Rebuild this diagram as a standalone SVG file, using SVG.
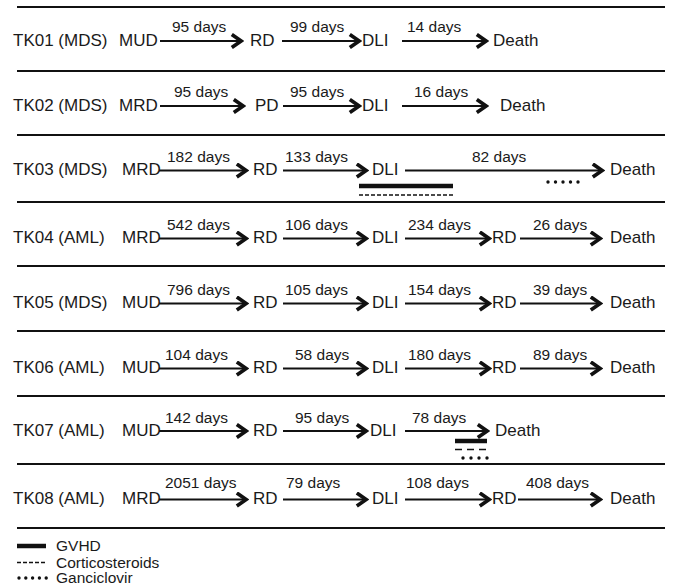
<svg xmlns="http://www.w3.org/2000/svg" width="674" height="587" viewBox="0 0 674 587">
<style>
text{font-family:"Liberation Sans",Arial,sans-serif;fill:#1a1a1a}
.t{font-size:17px}
.l{font-size:15.5px}
.sep{stroke:#111;stroke-width:2}
.arr{stroke:#111;stroke-width:2;fill:none;marker-end:url(#ah)}
.gvhd{stroke:#111;stroke-width:4.5}
.cort{stroke:#111;stroke-width:1.3;stroke-dasharray:4 2}
.ganc{stroke:#111;stroke-width:3.4;stroke-dasharray:0 7.5;stroke-linecap:round}
</style>
<defs>
<marker id="ah" markerUnits="userSpaceOnUse" viewBox="0 0 14 16" refX="12" refY="8" markerWidth="14" markerHeight="16" orient="auto">
<path d="M1.8,1.5 L11.2,8 L1.8,14.5" fill="none" stroke="#111" stroke-width="3.7"/>
</marker>
</defs>
<g id="separators">
<line class="sep" x1="17" y1="7" x2="665" y2="7"/>
<line class="sep" x1="17" y1="71" x2="665" y2="71"/>
<line class="sep" x1="17" y1="135" x2="665" y2="135"/>
<line class="sep" x1="17" y1="202" x2="665" y2="202"/>
<line class="sep" x1="17" y1="266" x2="665" y2="266"/>
<line class="sep" x1="17" y1="331" x2="665" y2="331"/>
<line class="sep" x1="17" y1="396" x2="665" y2="396"/>
<line class="sep" x1="17" y1="464" x2="665" y2="464"/>
<line class="sep" x1="17" y1="528" x2="665" y2="528"/>
</g>
<g id="connectors">
<path class="arr" d="M160,41H242"/><path class="arr" d="M282,41H360"/><path class="arr" d="M402,41H487"/>
<path class="arr" d="M160,106H244"/><path class="arr" d="M283,106H360"/><path class="arr" d="M402,106H487"/>
<path class="arr" d="M159,170.5H247"/><path class="arr" d="M283,170.5H367"/><path class="arr" d="M405,170.5H603"/>
<path class="arr" d="M159,238.5H247"/><path class="arr" d="M283,238.5H367"/><path class="arr" d="M405,238.5H490"/><path class="arr" d="M520,238.5H601"/>
<path class="arr" d="M159,303.5H247"/><path class="arr" d="M283,303.5H367"/><path class="arr" d="M405,303.5H490"/><path class="arr" d="M520,303.5H601"/>
<path class="arr" d="M159,368.5H247"/><path class="arr" d="M283,368.5H367"/><path class="arr" d="M405,368.5H490"/><path class="arr" d="M520,368.5H601"/>
<path class="arr" d="M159,431H247"/><path class="arr" d="M283,431H367"/><path class="arr" d="M405,431H488"/>
<path class="arr" d="M159,499.5H247"/><path class="arr" d="M283,499.5H367"/><path class="arr" d="M405,499.5H490"/><path class="arr" d="M518,499.5H601"/>
</g>
<g id="edge-labels">
<text class="l" x="172" y="32">95 days</text><text class="l" x="290" y="32">99 days</text><text class="l" x="407" y="32">14 days</text>
<text class="l" x="174" y="97">95 days</text><text class="l" x="290" y="97">95 days</text><text class="l" x="414" y="97">16 days</text>
<text class="l" x="167" y="161.5">182 days</text><text class="l" x="285" y="161.5">133 days</text><text class="l" x="472" y="161.5">82 days</text>
<text class="l" x="167" y="229.5">542 days</text><text class="l" x="285" y="229.5">106 days</text><text class="l" x="408" y="229.5">234 days</text><text class="l" x="533" y="229.5">26 days</text>
<text class="l" x="167" y="294.5">796 days</text><text class="l" x="285" y="294.5">105 days</text><text class="l" x="408" y="294.5">154 days</text><text class="l" x="533" y="294.5">39 days</text>
<text class="l" x="165" y="359.5">104 days</text><text class="l" x="295" y="359.5">58 days</text><text class="l" x="408" y="359.5">180 days</text><text class="l" x="533" y="359.5">89 days</text>
<text class="l" x="165" y="422.5">142 days</text><text class="l" x="295" y="422.5">95 days</text><text class="l" x="412" y="422.5">78 days</text>
<text class="l" x="165" y="488">2051 days</text><text class="l" x="286" y="488">79 days</text><text class="l" x="406" y="488">108 days</text><text class="l" x="526" y="488">408 days</text>
</g>
<g id="row-TK01">
<g id="TK01-label"><text class="t" x="13" y="46">TK01 (MDS)</text></g>
<g id="TK01-MUD"><text class="t" x="119" y="46">MUD</text></g>
<g id="TK01-RD"><text class="t" x="250" y="46">RD</text></g>
<g id="TK01-DLI"><text class="t" x="362" y="46">DLI</text></g>
<g id="TK01-Death"><text class="t" x="493" y="46">Death</text></g>
</g>
<g id="row-TK02">
<g id="TK02-label"><text class="t" x="13" y="111">TK02 (MDS)</text></g>
<g id="TK02-MRD"><text class="t" x="119" y="111">MRD</text></g>
<g id="TK02-PD"><text class="t" x="255" y="111">PD</text></g>
<g id="TK02-DLI"><text class="t" x="362" y="111">DLI</text></g>
<g id="TK02-Death"><text class="t" x="500" y="111">Death</text></g>
</g>
<g id="row-TK03">
<g id="TK03-label"><text class="t" x="13" y="175">TK03 (MDS)</text></g>
<g id="TK03-MRD"><text class="t" x="122" y="175">MRD</text></g>
<g id="TK03-RD"><text class="t" x="253" y="175">RD</text></g>
<g id="TK03-DLI"><text class="t" x="372" y="175">DLI</text></g>
<g id="TK03-Death"><text class="t" x="610" y="175">Death</text></g>
<g id="TK03-treatment">
<line class="gvhd" x1="359" y1="186" x2="453" y2="186"/>
<line class="cort" x1="359" y1="195" x2="453" y2="195"/>
<line class="ganc" x1="548" y1="182" x2="578.5" y2="182"/>
</g>
</g>
<g id="row-TK04">
<g id="TK04-label"><text class="t" x="13" y="243">TK04 (AML)</text></g>
<g id="TK04-MRD"><text class="t" x="122" y="243">MRD</text></g>
<g id="TK04-RD1"><text class="t" x="253" y="243">RD</text></g>
<g id="TK04-DLI"><text class="t" x="372" y="243">DLI</text></g>
<g id="TK04-RD2"><text class="t" x="492" y="243">RD</text></g>
<g id="TK04-Death"><text class="t" x="610" y="243">Death</text></g>
</g>
<g id="row-TK05">
<g id="TK05-label"><text class="t" x="13" y="308">TK05 (MDS)</text></g>
<g id="TK05-MUD"><text class="t" x="122" y="308">MUD</text></g>
<g id="TK05-RD1"><text class="t" x="253" y="308">RD</text></g>
<g id="TK05-DLI"><text class="t" x="372" y="308">DLI</text></g>
<g id="TK05-RD2"><text class="t" x="492" y="308">RD</text></g>
<g id="TK05-Death"><text class="t" x="610" y="308">Death</text></g>
</g>
<g id="row-TK06">
<g id="TK06-label"><text class="t" x="13" y="373">TK06 (AML)</text></g>
<g id="TK06-MUD"><text class="t" x="122" y="373">MUD</text></g>
<g id="TK06-RD1"><text class="t" x="253" y="373">RD</text></g>
<g id="TK06-DLI"><text class="t" x="372" y="373">DLI</text></g>
<g id="TK06-RD2"><text class="t" x="492" y="373">RD</text></g>
<g id="TK06-Death"><text class="t" x="610" y="373">Death</text></g>
</g>
<g id="row-TK07">
<g id="TK07-label"><text class="t" x="13" y="436">TK07 (AML)</text></g>
<g id="TK07-MUD"><text class="t" x="122" y="436">MUD</text></g>
<g id="TK07-RD"><text class="t" x="253" y="436">RD</text></g>
<g id="TK07-DLI"><text class="t" x="370" y="436">DLI</text></g>
<g id="TK07-Death"><text class="t" x="495" y="436">Death</text></g>
<g id="TK07-treatment">
<line class="gvhd" x1="455" y1="441" x2="487" y2="441"/>
<line class="cort" x1="455" y1="449.5" x2="487" y2="449.5" style="stroke-dasharray:7 5"/>
<line class="ganc" x1="463" y1="458" x2="487.5" y2="458" style="stroke-dasharray:0 8"/>
</g>
</g>
<g id="row-TK08">
<g id="TK08-label"><text class="t" x="13" y="504">TK08 (AML)</text></g>
<g id="TK08-MRD"><text class="t" x="122" y="504">MRD</text></g>
<g id="TK08-RD1"><text class="t" x="253" y="504">RD</text></g>
<g id="TK08-DLI"><text class="t" x="372" y="504">DLI</text></g>
<g id="TK08-RD2"><text class="t" x="492" y="504">RD</text></g>
<g id="TK08-Death"><text class="t" x="610" y="504">Death</text></g>
</g>
<g id="legend">
<line class="gvhd" x1="17" y1="546" x2="46" y2="546"/>
<text class="l" x="56" y="551">GVHD</text>
<line class="cort" x1="17" y1="562.5" x2="46" y2="562.5"/>
<text class="l" x="56" y="567.5">Corticosteroids</text>
<line class="ganc" x1="19" y1="578" x2="46.5" y2="578" style="stroke-dasharray:0 6.8"/>
<text class="l" x="56" y="583">Ganciclovir</text>
</g>
</svg>
